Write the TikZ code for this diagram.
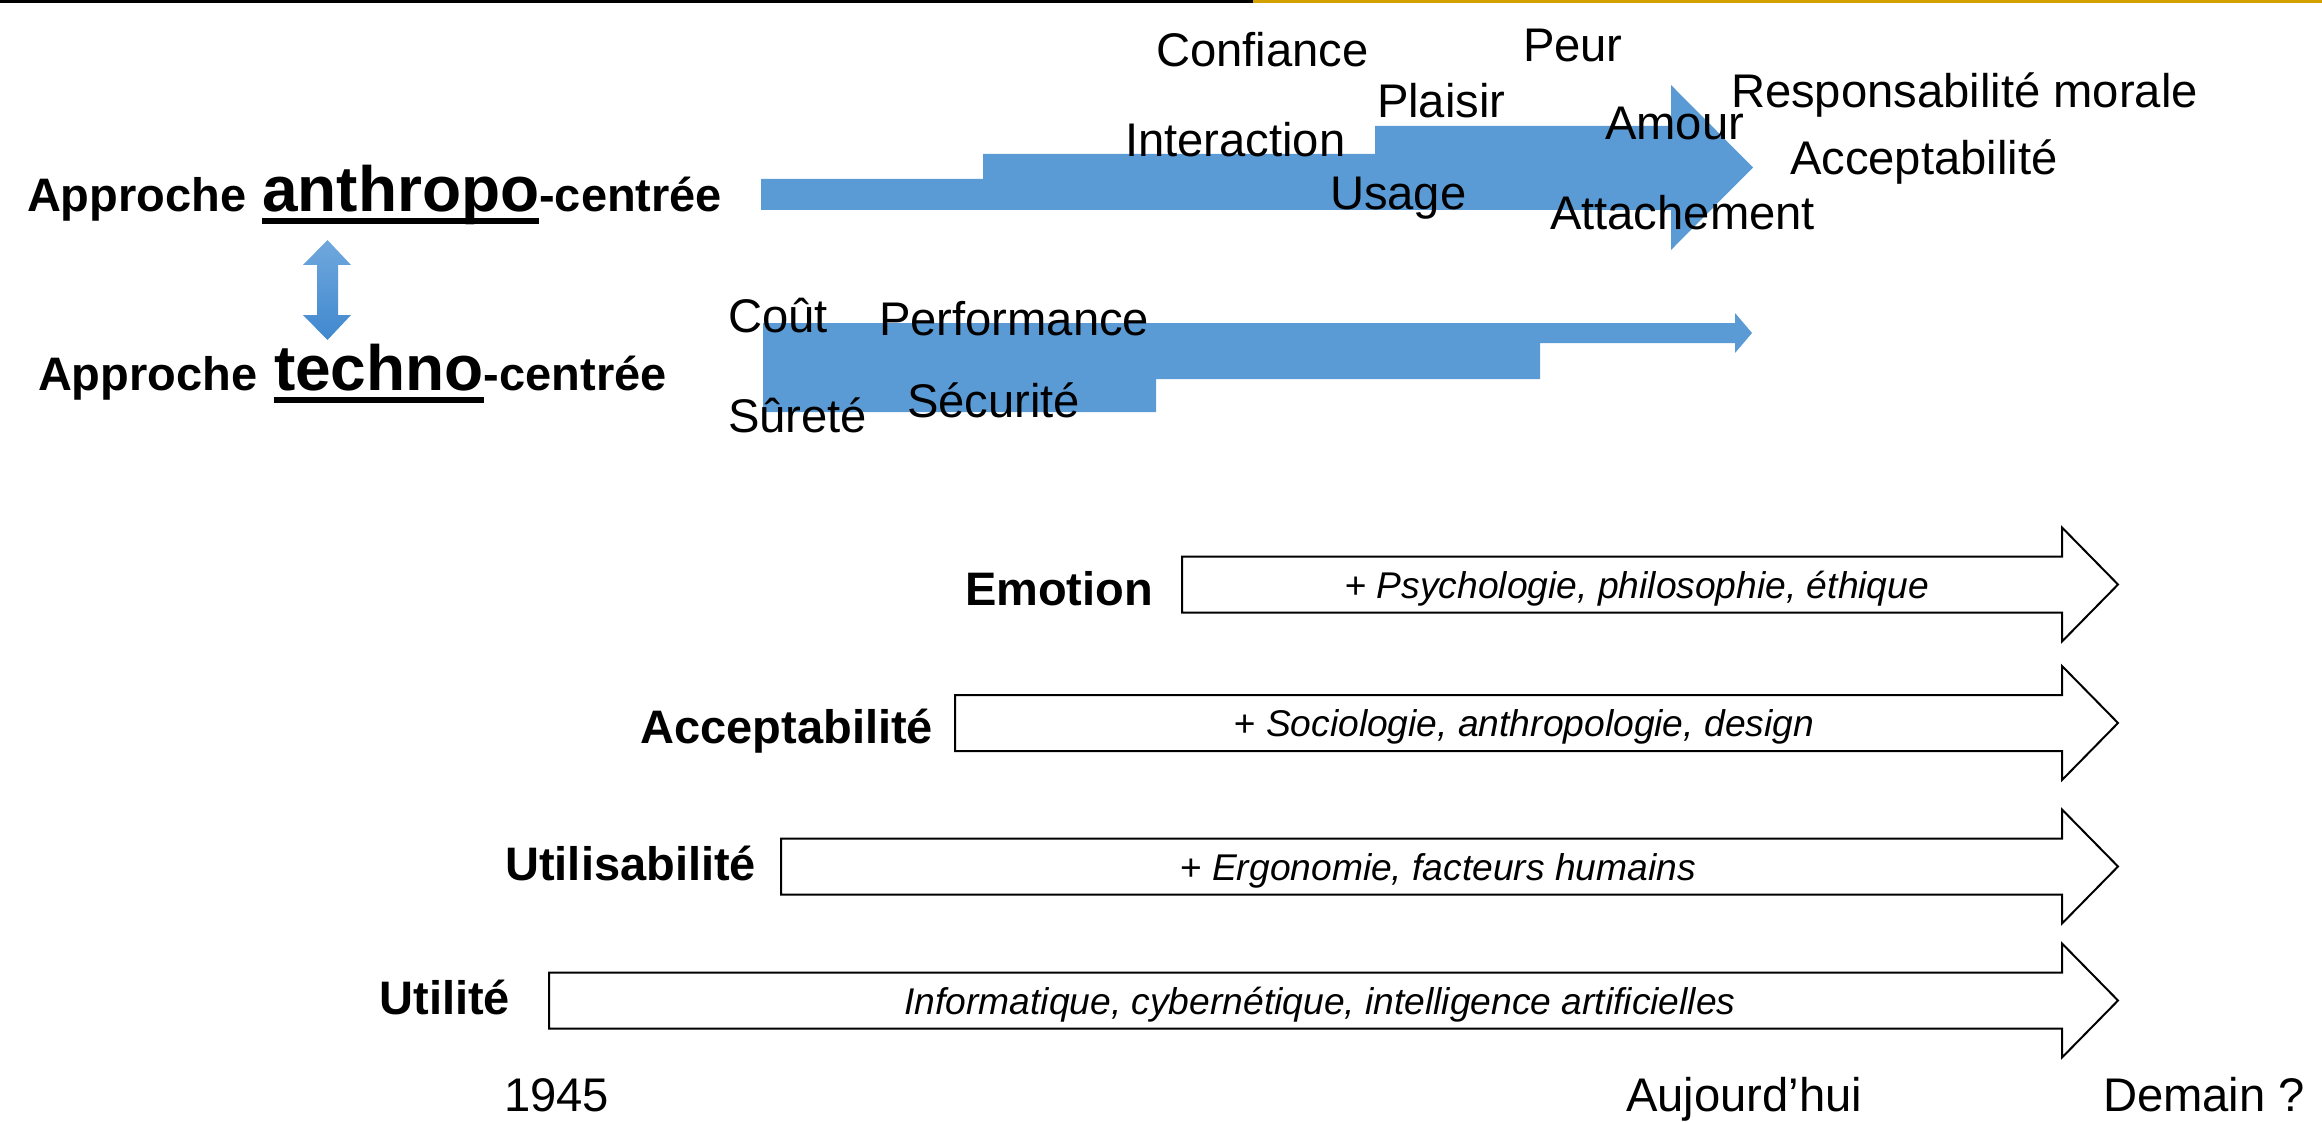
\documentclass[tikz,border=0pt]{standalone}
\usepackage{fontspec}
\setmainfont{Liberation Sans}
\usetikzlibrary{calc}
\definecolor{arrowblue}{RGB}{91,155,213}
\definecolor{topgold}{RGB}{212,160,0}
\definecolor{dblTop}{RGB}{112,168,221}
\definecolor{dblBot}{RGB}{64,136,207}
\begin{document}
\begin{tikzpicture}[x=0.5pt,y=-0.5pt,
  word/.style={inner sep=0pt, outer sep=0pt, anchor=base west, font=\fontsize{23.6}{28}\selectfont},
  bword/.style={inner sep=0pt, outer sep=0pt, font=\fontsize{23.5}{28}\selectfont\bfseries},
  bigword/.style={inner sep=0pt, outer sep=0pt, font=\fontsize{32}{38}\selectfont\bfseries},
  itword/.style={inner sep=0pt, outer sep=0pt, anchor=base, font=\fontsize{18.6}{22}\selectfont},
  outlinearrow/.style={draw=black, line width=1pt, fill=white, line join=miter},
]
\useasboundingbox (0,0) rectangle (2322,1123);
% top rule
\fill[black] (0,0) rectangle (1253,3);
\fill[topgold] (1253,0) rectangle (2322,3);

% anthropo-centred stepped arrow
\fill[arrowblue] (761,210) -- (761,179) -- (983,179) -- (983,154) -- (1375,154) -- (1375,126)
  -- (1671,126) -- (1671,85) -- (1753,167.5) -- (1671,250) -- (1671,210) -- cycle;
% techno-centred stepped arrow
\fill[arrowblue] (763,323) -- (1735,323) -- (1735,313) -- (1752,333) -- (1735,353) -- (1735,343)
  -- (1540,343) -- (1540,379) -- (1156,379) -- (1156,412) -- (763,412) -- cycle;

% double vertical arrow
\shade[top color=dblTop, bottom color=dblBot] (327.5,240) -- (351,265) -- (338,265) -- (338,315)
  -- (351,315) -- (327.5,340) -- (303,315) -- (317,315) -- (317,265) -- (303,265) -- cycle;

% left titles
\node[bword, anchor=base west] (ap1) at (27,212) {Approche};
\node[bigword, anchor=base west] (anthropo) at (262,212) {anthropo};
\node[bword, anchor=base west] (ce1) at (anthropo.base east) {-centrée};
\fill ($(anthropo.base west)+(0,6)$) rectangle ($(anthropo.base east)+(0,12)$);

\node[bword, anchor=base west] (ap2) at (38,390) {Approche};
\node[bigword, anchor=base west] (techno) at (274,390) {techno};
\node[bword, anchor=base west] (ce2) at (techno.base east) {-centrée};
\fill ($(techno.base west)+(0,7)$) rectangle ($(techno.base east)+(0,13)$);

% words around the anthropo arrow
\node[word] (confiance) at (1156,67) {Confiance};
\node[word] (peur) at (1523,62) {Peur};
\node[word] (plaisir) at (1377,118) {Plaisir};
\node[word] (amour) at (1605,140) {Amour};
\node[word] (interaction) at (1125,157) {Interaction};
\node[word] (usage) at (1330,210) {Usage};
\node[word] (attachement) at (1550,229) {Attachement};
\node[word] (respmor) at (1731,108) {Responsabilité morale};
\node[word] (accept1) at (1790,175) {Acceptabilité};

% words around the techno arrow
\node[word] (cout) at (728,332) {Coût};
\node[word] (perf) at (879,335) {Performance};
\node[word] (surete) at (728,432) {Sûreté};
\node[word] (secu) at (907,417) {Sécurité};

% outline arrows
\foreach \L/\c in {1182/584.5, 955/723, 781/866.5, 549/1000.5}{
  \path[outlinearrow] (\L,\c-28) -- (2062,\c-28) -- (2062,\c-57) -- (2118,\c)
    -- (2062,\c+57) -- (2062,\c+28) -- (\L,\c+28) -- cycle;
}

\node[itword] (tEmo) at (1637,598) {+ \textit{Psychologie, philosophie, éthique}};
\node[itword] (tAcc) at (1524,736.5) {+ \textit{Sociologie, anthropologie, design}};
\node[itword] (tUtb) at (1438,880) {+ \textit{Ergonomie, facteurs humains}};
\node[itword] (tUti) at (1320,1014) {\textit{Informatique, cybernétique, intelligence artificielles}};

\node[bword, anchor=base east] (lEmo) at (1153,605) {Emotion};
\node[bword, anchor=base east] (lAcc) at (933,743) {Acceptabilité};
\node[bword, anchor=base east] (lUtb) at (756,880) {Utilisabilité};
\node[bword, anchor=base east] (lUti) at (510,1014) {Utilité};

% time axis labels
\node[word] (y1945) at (504,1111) {1945};
\node[word] (today) at (1626,1111) {Aujourd’hui};
\node[word] (tomorrow) at (2103,1111) {Demain ?};
\end{tikzpicture}
\end{document}
